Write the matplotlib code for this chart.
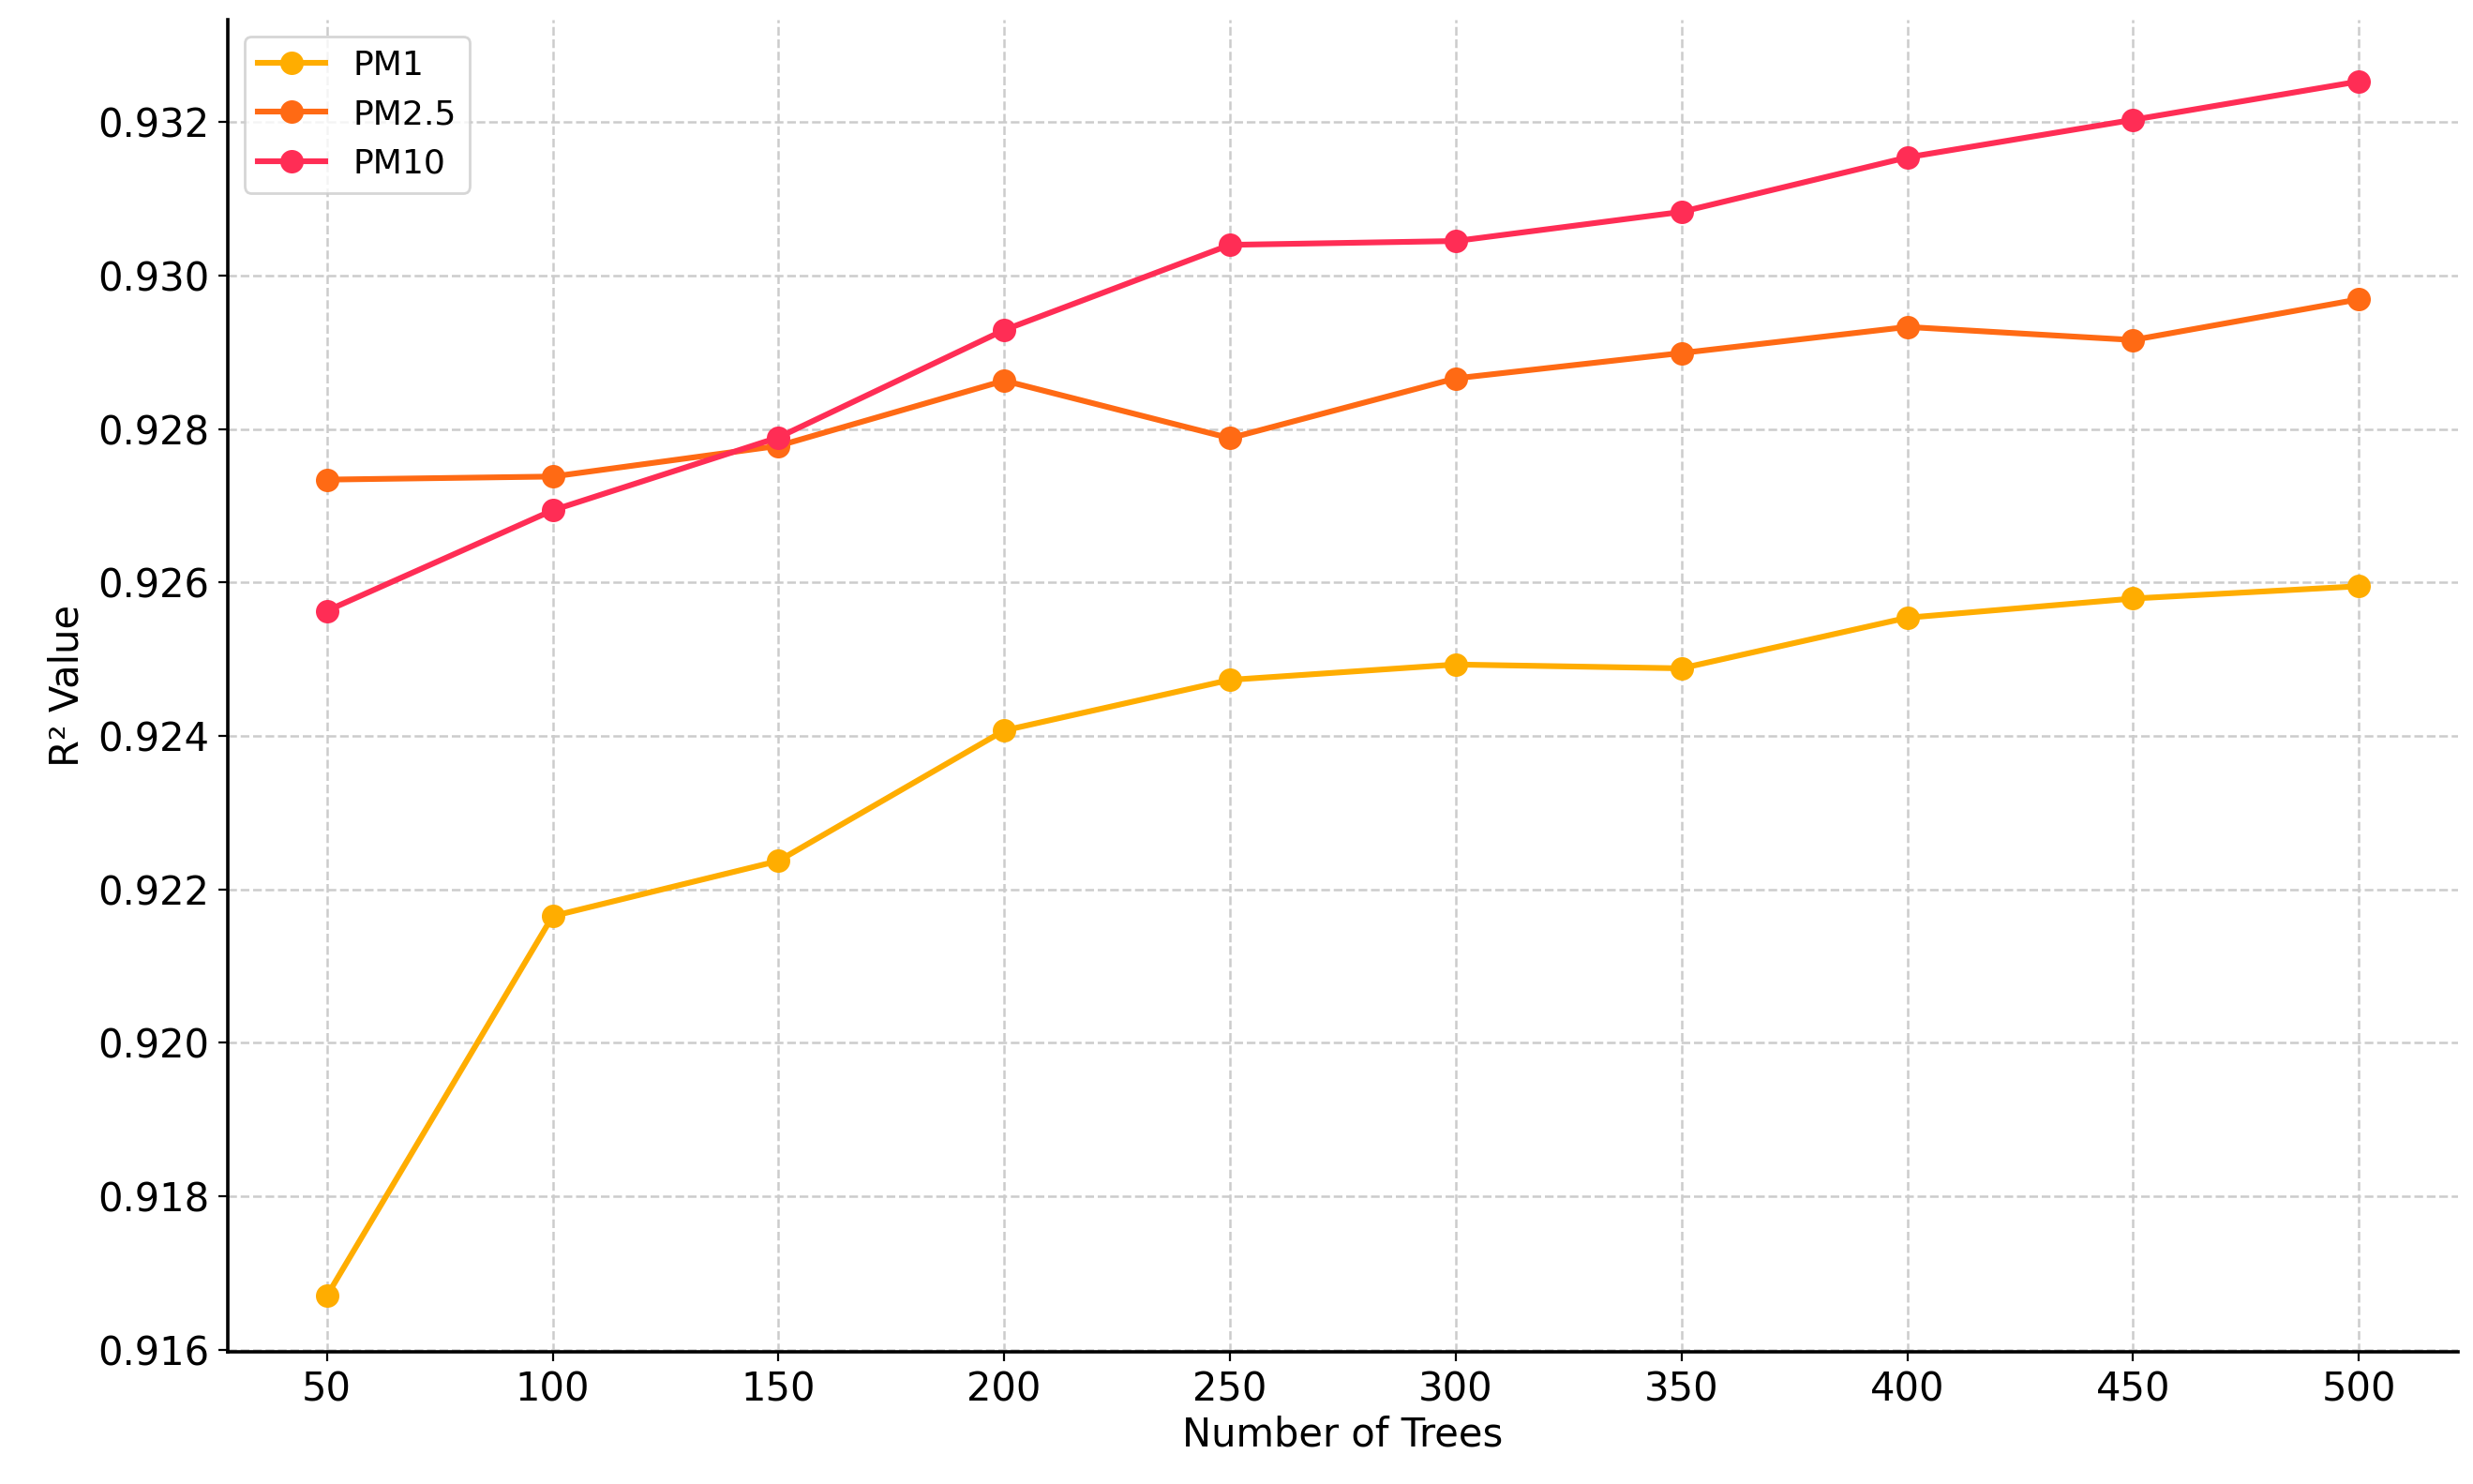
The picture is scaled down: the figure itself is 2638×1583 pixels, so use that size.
import matplotlib.pyplot as plt

trees = [50, 100, 150, 200, 250, 300, 350, 400, 450, 500]
pm1 = [0.9167, 0.92165, 0.92237, 0.92407, 0.92473, 0.92493, 0.92488, 0.92554, 0.92579, 0.92595]
pm25 = [0.92734, 0.92738, 0.92778, 0.92863, 0.92788, 0.92866, 0.92899, 0.92933, 0.92916, 0.92969]
pm10 = [0.92563, 0.92694, 0.92789, 0.92929, 0.93040, 0.93045, 0.93083, 0.93154, 0.93203, 0.93253]

fig = plt.figure(figsize=(13.19, 7.915), dpi=200)
ax = fig.add_axes([0.092, 0.089, 0.902, 0.898])

ax.plot(trees, pm1, marker="o", color="#FFAD00", lw=2.2, ms=8, label="PM1")
ax.plot(trees, pm25, marker="o", color="#FF6A14", lw=2.2, ms=8, label="PM2.5")
ax.plot(trees, pm10, marker="o", color="#FF2D55", lw=2.2, ms=8, label="PM10")

ax.set_xlim(28, 522)
ax.set_ylim(0.91597, 0.93334)
ax.set_xticks(trees)
ax.set_yticks([0.916 + 0.002 * i for i in range(9)])
ax.yaxis.set_major_formatter(plt.FormatStrFormatter("%.3f"))
ax.tick_params(labelsize=15)
ax.grid(True, linestyle="--", color="#cccccc", lw=0.9)
for s in ["top", "right"]:
    ax.spines[s].set_visible(False)
ax.spines["left"].set_linewidth(1.3)
ax.spines["bottom"].set_linewidth(1.3)
ax.set_xlabel("Number of Trees", fontsize=15, labelpad=2)
ax.set_ylabel("R² Value", fontsize=15, labelpad=4)
ax.legend(loc="upper left", fontsize=13)

fig.savefig("out.png")
